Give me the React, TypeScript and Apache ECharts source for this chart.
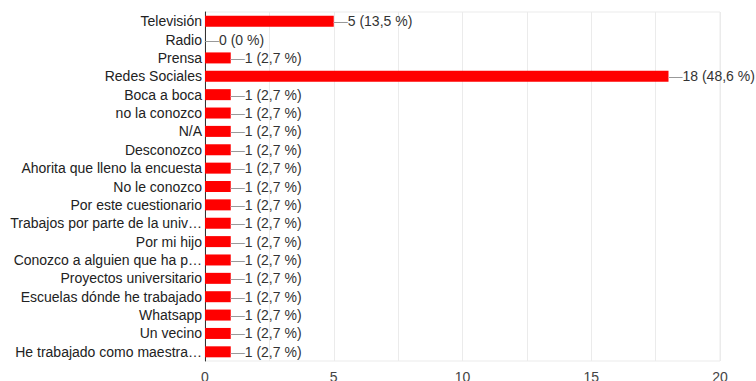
import React, { useEffect, useRef } from "react";
import * as echarts from "echarts";

const categories = [
  "Televisión",
  "Radio",
  "Prensa",
  "Redes Sociales",
  "Boca a boca",
  "no la conozco",
  "N/A",
  "Desconozco",
  "Ahorita que lleno la encuesta",
  "No le conozco",
  "Por este cuestionario",
  "Trabajos por parte de la univ…",
  "Por mi hijo",
  "Conozco a alguien que ha p…",
  "Proyectos universitario",
  "Escuelas dónde he trabajado",
  "Whatsapp",
  "Un vecino",
  "He trabajado como maestra…",
];
const values = [5, 0, 1, 18, 1, 1, 1, 1, 1, 1, 1, 1, 1, 1, 1, 1, 1, 1, 1];
const percentLabels = [
  "13,5 %", "0 %", "2,7 %", "48,6 %", "2,7 %", "2,7 %", "2,7 %", "2,7 %", "2,7 %", "2,7 %",
  "2,7 %", "2,7 %", "2,7 %", "2,7 %", "2,7 %", "2,7 %", "2,7 %", "2,7 %", "2,7 %",
];
const xTicks = [0, 5, 10, 15, 20];

const FONT = "Liberation Sans, Arial, sans-serif";

export default function App() {
  const ref = useRef<HTMLDivElement>(null);
  useEffect(() => {
    if (!ref.current) return;
    const chart = echarts.init(ref.current, undefined, { renderer: "svg" });
    chart.setOption({
      animation: false,
      grid: {
        left: 205,
        right: 36,
        top: 12,
        bottom: 20,
        outerBoundsMode: "none",
        containLabel: false,
        show: true,
        borderColor: "#ebebeb",
        borderWidth: 1,
      },
      xAxis: {
        type: "value",
        min: 0,
        max: 20,
        interval: 2.5,
        axisLine: { show: false },
        axisTick: { show: false },
        splitLine: { show: true, lineStyle: { color: "#ebebeb", width: 1 } },
        axisLabel: {
          margin: 9,
          fontSize: 14,
          fontFamily: FONT,
          color: "#444",
          formatter: (v: number) => (xTicks.includes(v) ? String(v) : ""),
        },
      },
      yAxis: {
        type: "category",
        data: categories,
        inverse: true,
        axisLine: { show: true, lineStyle: { color: "#333", width: 1 } },
        axisTick: { show: false },
        splitLine: { show: false },
        axisLabel: {
          interval: 0,
          margin: 3,
          fontSize: 14,
          fontFamily: FONT,
          color: "#222",
        },
      },
      series: [
        {
          type: "bar",
          data: values,
          barWidth: 11,
          itemStyle: { color: "#ff0000" },
          label: {
            show: true,
            position: "right",
            distance: 0,
            fontFamily: FONT,
            fontSize: 14,
            formatter: (p: any) => `{l|—}{t|${p.value} (${percentLabels[p.dataIndex]})}`,
            rich: {
              l: { color: "#999", fontSize: 14, fontFamily: FONT },
              t: { color: "#333", fontSize: 14, fontFamily: FONT },
            },
          },
        },
      ],
    });
    return () => chart.dispose();
  }, []);
  return <div ref={ref} style={{ width: 756, height: 381, position: "absolute", left: 0, top: 0 }} />;
}
